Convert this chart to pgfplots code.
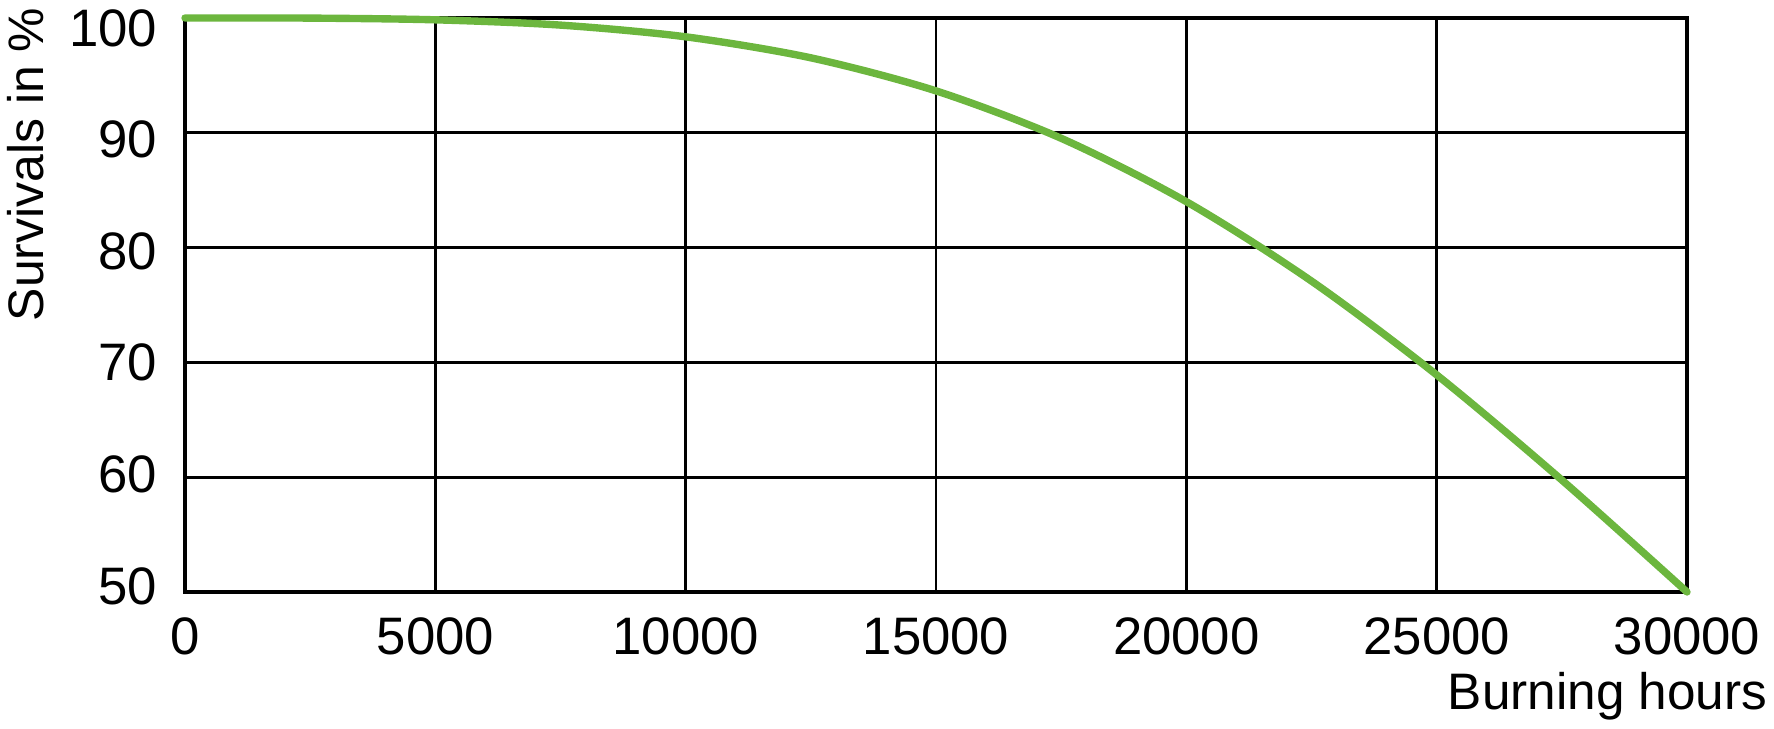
\documentclass[border=0pt]{standalone}
\usepackage{fontspec}
\setmainfont{Liberation Sans}
\usepackage{pgfplots}
\pgfplotsset{compat=1.18}
\definecolor{curvegreen}{RGB}{108,182,62}
\begin{document}
\fontsize{14.6}{16}\selectfont
\begin{tikzpicture}
\begin{axis}[
  scale only axis,
  width=150.2mm, height=57.4mm,
  xmin=0, xmax=30000, ymin=50, ymax=100,
  xtick={0,5000,...,30000},
  ytick={50,60,...,100},
  scaled x ticks=false,
  /pgf/number format/1000 sep={},
  /pgf/number format/assume math mode=true,
  grid=major,
  major grid style={black, line width=0.75pt},
  axis line style={black, line width=1.4pt},
  major tick length=0pt,
  tick style={draw=none},
  clip=false,
  xticklabel style={font=\fontsize{15}{17}\selectfont, anchor=base, yshift=-6.3mm},
  yticklabel style={font=\fontsize{15}{17}\selectfont, anchor=east, inner sep=0pt, xshift=-2.7mm, yshift={0.6mm-\ticknum*0.32mm}},
  xlabel={Burning hours},
  ylabel={Survivals in \%},
  xlabel style={font=\fontsize{14.6}{16}\selectfont, at={([xshift=8.1mm,yshift=-11.8mm]rel axis cs:1,0)}, anchor=base east, inner sep=0pt},
  ylabel style={font=\fontsize{14.2}{16}\selectfont, at={([xshift=-17.8mm,yshift=1.1mm]rel axis cs:0,1)}, anchor=north east, inner sep=0pt},
]
\addplot[curvegreen, line width=2.1pt, line cap=round, smooth] coordinates {
  (0,100) (2500,99.99) (5000,99.84) (7500,99.38) (10000,98.36) (12500,96.53)
  (15000,93.65) (17500,89.52) (20000,84.00) (22500,77.08)
  (25000,68.91) (27500,59.75) (30000,50.00)
};
\coordinate (bl) at (rel axis cs:0,0);
\coordinate (tr) at (rel axis cs:1,1);
\end{axis}
\pgfresetboundingbox
\path[use as bounding box] ([xshift=-18.5mm,yshift=-13.7mm]bl) rectangle ([xshift=8.7mm,yshift=1.8mm]tr);
\end{tikzpicture}
\end{document}
